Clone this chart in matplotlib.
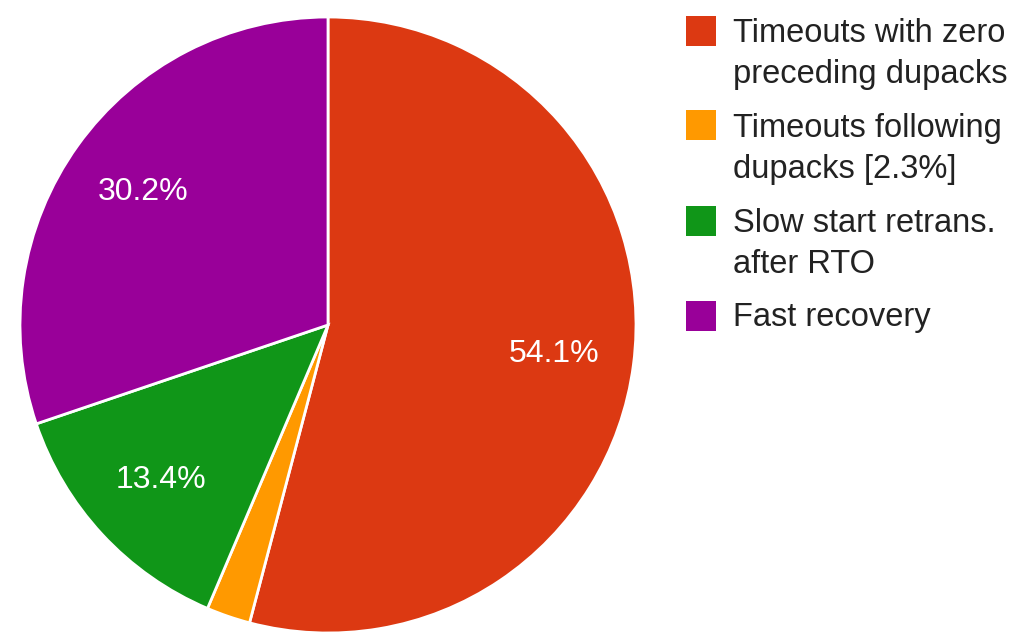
import matplotlib
matplotlib.use("Agg")
import matplotlib.pyplot as plt
from matplotlib.patches import Rectangle
import numpy as np

plt.rcParams['font.family'] = ['Liberation Sans', 'DejaVu Sans']

# data
labels = ["Timeouts with zero\npreceding dupacks",
          "Timeouts following\ndupacks [2.3%]",
          "Slow start retrans.\nafter RTO",
          "Fast recovery"]
shares = [54.1, 2.3, 13.4, 30.2]
colors = ["#DC3912", "#FF9900", "#109618", "#990099"]

W, H = 1021, 633
fig = plt.figure(figsize=(W / 100, H / 100), dpi=100)

# pie centred at (328, 325) px, radius ~308 px
cx, cy, r = 328, 325, 308
ax = fig.add_axes([(cx - r) / W, (H - cy - r) / H, 2 * r / W, 2 * r / H])
wedges, texts = ax.pie(shares, colors=colors, startangle=90, counterclock=False,
                       wedgeprops=dict(edgecolor="white", linewidth=2))
ax.set_aspect("auto")
ax.set_xlim(-1, 1)
ax.set_ylim(-1, 1)

# percentage labels (the small slice has none)
start = 90.0
total = sum(shares)
for val in shares:
    span = 360.0 * val / total
    mid = np.deg2rad(start - span / 2)
    start -= span
    if val < 5:
        continue
    ax.text(0.74 * np.cos(mid), 0.74 * np.sin(mid), f"{val}%", color="white",
            fontsize=23, ha="center", va="center")

# legend drawn by hand: square centre and first-line baseline (px from top)
sq_centres = [31, 125, 221, 316]
baselines = [42, 137, 232, 326]
for lab, col, yc, yb in zip(labels, colors, sq_centres, baselines):
    fig.patches.append(Rectangle((686 / W, (H - yc - 15) / H), 30 / W, 30 / H,
                                 transform=fig.transFigure, facecolor=col,
                                 edgecolor="none"))
    for i, line in enumerate(lab.split("\n")):
        fig.text(733 / W, (H - yb - 41 * i) / H, line, fontsize=23.5,
                 color="#222222", ha="left", va="baseline")

fig.savefig("out.png", dpi=100)
